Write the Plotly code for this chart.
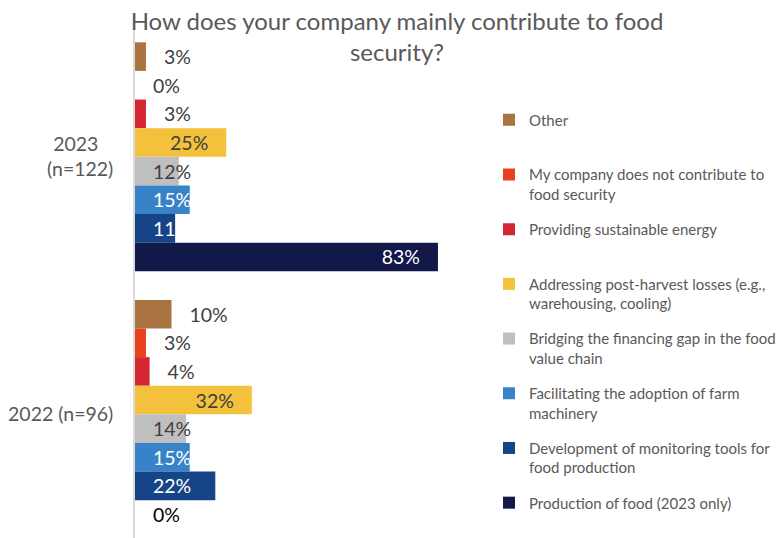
import plotly.graph_objects as go

# Survey years shown on the category axis (top to bottom)
NB = "\u00a0"
years = ["2023" + NB * 3 + "<br>(n=122)", "2022 (n=96)"]

# Answer options, in the order they are stacked inside each year group
answers = [
    "Other",
    "My company does not contribute to<br>food security",
    "Providing sustainable energy",
    "Addressing post-harvest losses (e.g.,<br>warehousing, cooling)",
    "Bridging the financing gap in the food<br>value chain",
    "Facilitating the adoption of farm<br>machinery",
    "Development of monitoring tools for<br>food production",
    "Production of food (2023 only)",
]

# Share of respondents (%), [2023, 2022] for each answer
share_other = [3, 10]
share_no_contribution = [0, 3]
share_energy = [3, 4]
share_post_harvest = [25, 32]
share_financing = [12, 14]
share_machinery = [15, 15]
share_monitoring = [11, 22]
share_production = [83, 0]

shares = [
    share_other, share_no_contribution, share_energy, share_post_harvest,
    share_financing, share_machinery, share_monitoring, share_production,
]

colors = [
    "#A97442", "#E9401E", "#D42631", "#F3C13B",
    "#BFBFBF", "#3883C8", "#164587", "#121848",
]

# Label colour per bar: light text on dark fills
label_colors = [
    ["#404040", "#404040"],
    ["#404040", "#404040"],
    ["#404040", "#404040"],
    ["#404040", "#404040"],
    ["#404040", "#404040"],
    ["#FFFFFF", "#FFFFFF"],
    ["#FFFFFF", "#FFFFFF"],
    ["#FFFFFF", "#000000"],
]

# Where the value label sits inside the bar, per answer
inside_anchor = ["end", "end", "end", "end", "start", "start", "start", "end"]

FONT = "Lato"
GREY = "#595959"
PAD = NB * 3

fig = go.Figure()
n = len(answers)
for i, (name, vals, col, lcol, anchor) in enumerate(
        zip(answers, shares, colors, label_colors, inside_anchor)):
    texts, positions = [], []
    for v in vals:
        if v <= 10:
            texts.append(PAD + f"{v}%")
            positions.append("outside")
        elif anchor == "start":
            texts.append(PAD + f"{v}%")
            positions.append("inside")
        else:
            texts.append(f"{v}%" + PAD)
            positions.append("inside")
    # keep every legend entry two lines tall so entries are evenly spaced
    legend_name = name if ("<br>" in name or i == n - 1) else name + "<br>" + NB
    fig.add_trace(go.Bar(
        y=years,
        x=vals,
        name=legend_name,
        orientation="h",
        marker=dict(color=col, line=dict(width=0)),
        text=texts,
        textposition=positions,
        insidetextanchor=anchor,
        textangle=0,
        constraintext="none",
        cliponaxis=False,
        textfont=dict(family=FONT, size=19.5, color=lcol),
        legendgroup=name,
        hoverinfo="skip",
    ))

fig.update_layout(
    width=780,
    height=538,
    barmode="group",
    bargap=1 / 9,
    bargroupgap=0,
    plot_bgcolor="white",
    paper_bgcolor="white",
    margin=dict(l=135, r=280, t=28, b=0, pad=0, autoexpand=False),
    title=dict(
        text="How does your company mainly contribute to food<br>security?",
        font=dict(family=FONT, size=24, color=GREY),
        x=0.509,
        xanchor="center",
        xref="container",
        y=0.944,
        yanchor="top",
        yref="container",
    ),
    xaxis=dict(
        range=[0, 100],
        showgrid=False,
        zeroline=False,
        showticklabels=False,
        showline=False,
        ticks="",
        automargin=False,
    ),
    yaxis=dict(
        range=[1.48, -0.5],
        showgrid=False,
        zeroline=False,
        showline=True,
        linecolor="#D9D9D9",
        linewidth=1.5,
        ticks="",
        ticklabelstandoff=16,
        tickfont=dict(family=FONT, size=19.5, color=GREY),
        automargin=False,
    ),
    legend=dict(
        xref="container",
        yref="container",
        x=489 / 780,
        y=1 - 103.5 / 538,
        xanchor="left",
        yanchor="top",
        valign="top",
        tracegroupgap=12.7,
        maxheight=538,
        font=dict(family=FONT, size=15, color=GREY),
        bgcolor="rgba(0,0,0,0)",
    ),
    showlegend=True,
)

fig.write_html("out.html")
